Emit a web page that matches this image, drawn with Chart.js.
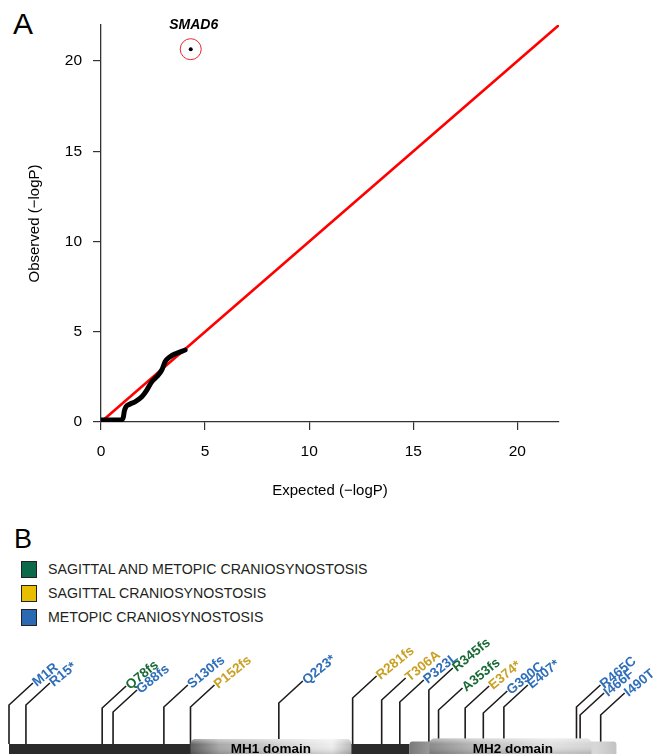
<!DOCTYPE html>
<html><head><meta charset="utf-8">
<script src="https://cdn.jsdelivr.net/npm/chart.js@4.4.1/dist/chart.umd.min.js"></script>
<style>
html,body{margin:0;padding:0;background:#fff;}
body{width:663px;height:754px;position:relative;overflow:hidden;font-family:"Liberation Sans",Arial,sans-serif;}
.abs{position:absolute;}
#cA{position:absolute;left:0;top:0;}
#cB{position:absolute;left:0;top:630px;}
.panel{color:#000;}
.leg-sw{position:absolute;left:21px;width:14px;height:15px;border:1px solid #222;}
.leg-tx{position:absolute;left:48px;font-size:14.2px;line-height:16px;color:#231f20;white-space:nowrap;}
</style></head>
<body>
<div class="abs panel" style="left:13px;top:9px;font-size:30px;line-height:30px;">A</div>
<div class="abs panel" style="left:14px;top:526px;font-size:27px;line-height:27px;">B</div>
<div id="legend"></div>
<canvas id="cA" width="663" height="515"></canvas>
<canvas id="cB" width="663" height="124"></canvas>
<script>
// ---------- DATA ----------
// Panel A: QQ plot
const qqExpected = [0.02, 0.5, 1.0, 1.07, 1.12, 1.2, 1.35, 1.63, 1.96, 2.2, 2.44, 2.68, 2.92, 3.08, 3.32, 3.64, 4.04];
const qqObserved = [0.11, 0.11, 0.12, 0.25, 0.6, 0.85, 0.97, 1.12, 1.40, 1.77, 2.23, 2.51, 2.88, 3.34, 3.62, 3.81, 3.99];
const nullLineX = [0, 22];
const nullLineY = [0, 22];
const topGeneName = 'SMAD6';
const topGeneExpected = 4.31;
const topGeneObserved = 20.66;
const axisTickValues = [0, 5, 10, 15, 20];

// Panel B: SMAD6 mutations
const groupNames = ['SAGITTAL AND METOPIC CRANIOSYNOSTOSIS', 'SAGITTAL CRANIOSYNOSTOSIS', 'METOPIC CRANIOSYNOSTOSIS'];
const mutationLabels = ['M1R','R15*','Q78fs','G88fs','S130fs','P152fs','Q223*','R281fs','T306A','P323L','R345fs','A353fs','E374*','G390C','E407*','R465C','I466F','I490T'];
const mutationResidues = [1, 15, 78, 87, 129, 151, 224, 285, 309, 324, 348, 356, 378, 393, 410, 470, 473, 490];
const mutationGroups = [2, 2, 0, 2, 2, 1, 2, 1, 1, 2, 0, 0, 1, 2, 2, 2, 2, 2];
const domainNames = ['MH1 domain', 'MH2 domain'];
const domainStarts = [151, 332];
const domainEnds = [284, 503];
const backboneRange = [1, 332];

// ---------- STYLE / LAYOUT ----------
const groupSwatch = ['#0b6a49', '#e8be00', '#2c69b3'];
const groupText = ['#1b6a36', '#c9a126', '#2f6fba'];
const stemLift = [39, 39, 36, 32, 37, 37, 41, 46, 44, 42, 54, 34, 36, 31, 37, 37, 29, 29];
const legendCenters = [569, 593, 616.5];

Chart.defaults.font.family = '"Liberation Sans", Arial, sans-serif';
Chart.defaults.color = '#000';

// Legend (HTML)
const leg = document.getElementById('legend');
groupNames.forEach((n, i) => {
  const sw = document.createElement('div');
  sw.className = 'leg-sw';
  sw.style.top = (legendCenters[i] - 8) + 'px';
  sw.style.background = groupSwatch[i];
  leg.appendChild(sw);
  const tx = document.createElement('div');
  tx.className = 'leg-tx';
  tx.style.top = (legendCenters[i] - 8) + 'px';
  tx.textContent = n;
  leg.appendChild(tx);
});

// ---------- CHART A ----------
const geneLabelPlugin = {
  id: 'geneLabel',
  afterDatasetsDraw(chart) {
    const {ctx, scales: {x, y}} = chart;
    const px = x.getPixelForValue(topGeneExpected);
    const py = y.getPixelForValue(topGeneObserved);
    ctx.save();
    ctx.font = 'italic bold 14px "Liberation Sans", Arial, sans-serif';
    ctx.fillStyle = '#000';
    ctx.textAlign = 'center';
    ctx.textBaseline = 'middle';
    ctx.fillText(topGeneName, px + 3, py - 24);
    ctx.restore();
  }
};

new Chart(document.getElementById('cA'), {
  type: 'scatter',
  data: {
    datasets: [
      { data: qqExpected.map((v, i) => ({x: v, y: qqObserved[i]})), showLine: true, borderColor: '#000',
        borderWidth: 5, pointRadius: 0, cubicInterpolationMode: 'monotone', borderCapStyle: 'round' },
      { data: [{x: topGeneExpected, y: topGeneObserved}], pointRadius: 2, pointBackgroundColor: '#000', pointBorderWidth: 0 },
      { data: [{x: topGeneExpected, y: topGeneObserved}], pointRadius: 10.5, pointBackgroundColor: 'rgba(0,0,0,0)',
        pointBorderColor: '#e8262b', pointBorderWidth: 1 },
      { data: nullLineX.map((v, i) => ({x: v, y: nullLineY[i]})), showLine: true, borderColor: '#ff0000',
        borderWidth: 2.6, pointRadius: 0 }
    ]
  },
  options: {
    responsive: false,
    animation: false,
    layout: { padding: { top: 25, right: 104, left: 0, bottom: 0 } },
    plugins: { legend: { display: false }, tooltip: { enabled: false } },
    scales: {
      x: {
        type: 'linear', min: 0, max: 22,
        afterFit(s) { s.height = 93; },
        afterBuildTicks(s) { s.ticks = axisTickValues.map(v => ({value: v})); },
        grid: { drawOnChartArea: false, drawTicks: true, tickLength: 8, color: '#333', lineWidth: 1.2 },
        border: { display: true, color: '#333', width: 1.3 },
        ticks: { padding: 12, font: { size: 15.5 }, color: '#000', maxRotation: 0, autoSkip: false },
        title: { display: true, text: 'Expected (−logP)', font: { size: 15 }, color: '#000', padding: { top: 0, bottom: 15 } }
      },
      y: {
        type: 'linear', min: 0, max: 22,
        afterFit(s) { s.width = 101; },
        afterBuildTicks(s) { s.ticks = axisTickValues.map(v => ({value: v})); },
        grid: { drawOnChartArea: false, drawTicks: true, tickLength: 8, color: '#333', lineWidth: 1.2 },
        border: { display: true, color: '#333', width: 1.3 },
        ticks: { padding: 11, font: { size: 15.5 }, color: '#000', autoSkip: false },
        title: { display: true, text: 'Observed (−logP)', font: { size: 15 }, color: '#000', padding: { top: 26, bottom: 0 } }
      }
    }
  },
  plugins: [geneLabelPlugin]
});

// ---------- CHART B ----------
const diagAA = 19.8, diagLift = 22;
const stemDatasets = mutationResidues.map((r, i) => ({
  data: [{x: r, y: 0}, {x: r, y: stemLift[i]}, {x: r + diagAA, y: stemLift[i] + diagLift}],
  showLine: true, borderColor: '#1e1a1b', borderWidth: 1.6, pointRadius: 0, tension: 0
}));

function pill(ctx, x, y, w, h, r) {
  ctx.beginPath();
  ctx.roundRect(x, y, w, h, r);
}

const proteinPlugin = {
  id: 'protein',
  afterDatasetsDraw(chart) {
    const {ctx, scales: {x, y}} = chart;
    ctx.save();
    // backbone
    const b0 = x.getPixelForValue(backboneRange[0]), b1 = x.getPixelForValue(backboneRange[1]);
    const top0 = y.getPixelForValue(0), bot = y.getPixelForValue(-14);
    ctx.fillStyle = '#2b2b2b';
    ctx.fillRect(b0, top0, b1 - b0, bot - top0);
    domainNames.forEach((name, i) => {
      const d0 = x.getPixelForValue(domainStarts[i]), d1 = x.getPixelForValue(domainEnds[i]);
      const w = d1 - d0;
      if (i === 0) {
        const t = y.getPixelForValue(5);
        const g = ctx.createLinearGradient(d0, 0, d1, 0);
        g.addColorStop(0, '#5e5e5e'); g.addColorStop(0.18, '#a9a9a9'); g.addColorStop(0.55, '#d2d2d2');
        g.addColorStop(0.88, '#eeeeee'); g.addColorStop(1, '#b8b8b8');
        ctx.fillStyle = g; pill(ctx, d0, t, w, bot - t, 5); ctx.fill();
        const v = ctx.createLinearGradient(0, t, 0, t + 14);
        v.addColorStop(0, 'rgba(255,255,255,0.45)'); v.addColorStop(0.4, 'rgba(255,255,255,0)'); v.addColorStop(1, 'rgba(0,0,0,0.12)');
        ctx.fillStyle = v; pill(ctx, d0, t, w, bot - t, 5); ctx.fill();
      } else {
        const t1 = y.getPixelForValue(2.5), t2 = y.getPixelForValue(5.5);
        const g1 = ctx.createLinearGradient(d0, 0, d1, 0);
        g1.addColorStop(0, '#7a7a7a'); g1.addColorStop(0.1, '#9a9a9a'); g1.addColorStop(0.9, '#d8d8d8'); g1.addColorStop(1, '#c2c2c2');
        ctx.fillStyle = g1; pill(ctx, d0, t1, w, bot - t1, 3); ctx.fill();
        const c0 = d0 + 20, c1 = d1 - 25;
        const g2 = ctx.createLinearGradient(c0, 0, c1, 0);
        g2.addColorStop(0, '#8a8a8a'); g2.addColorStop(0.3, '#bdbdbd'); g2.addColorStop(0.75, '#e2e2e2'); g2.addColorStop(1, '#d4d4d4');
        ctx.fillStyle = g2; pill(ctx, c0, t2, c1 - c0, bot - t2, 5); ctx.fill();
        const v = ctx.createLinearGradient(0, t2, 0, t2 + 14);
        v.addColorStop(0, 'rgba(255,255,255,0.45)'); v.addColorStop(0.4, 'rgba(255,255,255,0)'); v.addColorStop(1, 'rgba(0,0,0,0.12)');
        ctx.fillStyle = v; pill(ctx, c0, t2, c1 - c0, bot - t2, 5); ctx.fill();
      }
      ctx.fillStyle = '#000';
      ctx.font = 'bold 13.5px "Liberation Sans", Arial, sans-serif';
      ctx.textAlign = 'center';
      ctx.textBaseline = 'middle';
      ctx.fillText(name, (d0 + d1) / 2, y.getPixelForValue(-5));
    });
    // mutation labels
    ctx.font = 'bold 13.5px "Liberation Sans", Arial, sans-serif';
    ctx.textAlign = 'left';
    ctx.textBaseline = 'middle';
    mutationLabels.forEach((lab, i) => {
      const px = x.getPixelForValue(mutationResidues[i] + diagAA);
      const py = y.getPixelForValue(stemLift[i] + diagLift);
      ctx.save();
      ctx.translate(px + 1.5, py + 1);
      ctx.rotate(-39 * Math.PI / 180);
      ctx.fillStyle = groupText[mutationGroups[i]];
      ctx.fillText(lab, 0, 0);
      ctx.restore();
    });
    ctx.restore();
  }
};

new Chart(document.getElementById('cB'), {
  type: 'scatter',
  data: { datasets: stemDatasets },
  options: {
    responsive: false,
    animation: false,
    layout: { padding: 0 },
    plugins: { legend: { display: false }, tooltip: { enabled: false } },
    scales: {
      x: { type: 'linear', min: -6.44, max: 541.5, display: false },
      y: { type: 'linear', min: -10, max: 114, display: false }
    }
  },
  plugins: [proteinPlugin]
});
</script>
</body></html>
